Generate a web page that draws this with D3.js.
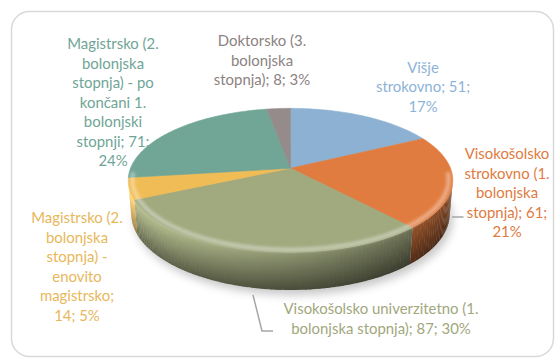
<!DOCTYPE html>
<html>
<head>
<meta charset="utf-8">
<script src="https://cdn.jsdelivr.net/npm/d3@7"></script>
<style>
  html, body { margin: 0; padding: 0; background: #ffffff; }
  svg { display: block; }
</style>
</head>
<body>
<svg id="chart" width="556" height="360"></svg>
<script>
// ---- data ----
const categories = [
  "Višje strokovno",
  "Visokošolsko strokovno (1. bolonjska stopnja)",
  "Visokošolsko univerzitetno (1. bolonjska stopnja)",
  "Magistrsko (2. bolonjska stopnja) - enovito magistrsko",
  "Magistrsko (2. bolonjska stopnja) - po končani 1. bolonjski stopnji",
  "Doktorsko (3. bolonjska stopnja)"
];
const values = [51, 61, 87, 14, 71, 8];

// ---- styling ----
const sliceColors = ["#8db1d3", "#e07c40", "#a1a97f", "#f0bc55", "#71a596", "#958b8b"];
const labelColors = ["#8db3d8", "#e07b3f", "#9fa77d", "#e8b75a", "#6fa596", "#8c8282"];
// words on each wrapped line of a data label
const labelWrap = [[1, 2, 1], [1, 2, 1, 2, 1], [3, 4], [2, 1, 2, 1, 1, 2], [2, 1, 3, 2, 1, 2, 1], [2, 1, 3]];
// label block centre x and centre y of its first line
const labelAnchor = [[423, 67.5], [507, 154], [381, 309], [77, 218], [113, 44], [262, 41]];
const lineStep = 19.5;
const leaders = [null, [[452, 217], [463.5, 217]], [[253, 295], [262, 331], [273, 331]], null, null, null];

const svg = d3.select("#chart");
const defs = svg.append("defs");

// chart area frame
svg.append("rect")
  .attr("x", 11.5).attr("y", 11.5).attr("width", 542).attr("height", 345)
  .attr("rx", 18).attr("ry", 18)
  .attr("fill", "#ffffff").attr("stroke", "#d9d9d9").attr("stroke-width", 1.5);

// ---- perspective projection of a tilted disc ----
const cam = { cx: 290.5, cy: 168.3, f: 864, D: 5.4, sinE: 0.437, cosE: 0.8995, h: 0.235 };
function project(a, r, z) {
  const X = r * Math.sin(a), Y = -r * Math.cos(a);
  const v = -Y * cam.sinE + z * cam.cosE;
  const d = cam.D - (Y * cam.cosE + z * cam.sinE);
  return [cam.cx + cam.f * X / d, cam.cy - cam.f * v / d];
}
const line = d3.line();
function arcPoints(a0, a1, r, z) {
  const n = Math.max(2, Math.ceil((a1 - a0) / (Math.PI / 180)));
  return d3.range(n + 1).map(i => project(a0 + (a1 - a0) * i / n, r, z));
}

const pie = d3.pie().sort(null).value(d => d);
const arcs = pie(values);
const total = d3.sum(values);

// drop shadow under the disc
defs.append("filter").attr("id", "soft").attr("x", "-20%").attr("y", "-20%").attr("width", "140%").attr("height", "140%")
  .append("feGaussianBlur").attr("stdDeviation", 4);
defs.append("filter").attr("id", "glow").attr("x", "-10%").attr("y", "-10%").attr("width", "120%").attr("height", "120%")
  .append("feGaussianBlur").attr("stdDeviation", 1.5);

const shadow = svg.append("g").attr("filter", "url(#soft)").attr("opacity", 0.32);
shadow.append("path")
  .attr("d", line(arcPoints(0, 2 * Math.PI, 1.0, -cam.h)) + "Z")
  .attr("transform", "translate(3,5)")
  .attr("fill", "#555");

// ---- outer walls (only the part facing the viewer) ----
const aMin = Math.acos(-1 / (cam.D * cam.cosE));
const aMax = 2 * Math.PI - aMin;
const walls = svg.append("g");
const step = Math.PI / 120;
let gid = 0;
arcs.forEach((s, i) => {
  const a0 = Math.max(s.startAngle, aMin), a1 = Math.min(s.endAngle, aMax);
  if (a1 <= a0) return;
  const base = d3.rgb(sliceColors[i]);
  const n = Math.max(1, Math.ceil((a1 - a0) / step));
  for (let k = 0; k < n; k++) {
    const t0 = a0 + (a1 - a0) * k / n;
    const t1 = Math.min(a1, a0 + (a1 - a0) * (k + 1) / n + 0.004);
    const mid = (t0 + t1) / 2;
    const L = 0.78 + 0.28 * Math.sin(mid - Math.PI);
    const shade = m => d3.rgb(base.r * L * m, base.g * L * m, base.b * L * m).formatHex();
    const id = "w" + (gid++);
    const g = defs.append("linearGradient").attr("id", id)
      .attr("x1", 0).attr("y1", 0).attr("x2", 0).attr("y2", 1);
    [[0, 1.15], [0.22, 1.02], [0.55, 0.84], [1, 0.58]].forEach(([o, m]) =>
      g.append("stop").attr("offset", o).attr("stop-color", shade(m)));
    const pts = [project(t0, 1, 0), project(t1, 1, 0), project(t1, 1, -cam.h), project(t0, 1, -cam.h)];
    walls.append("path").attr("d", line(pts) + "Z").attr("fill", `url(#${id})`);
  }
});

// ---- top faces ----
const tops = svg.append("g");
arcs.forEach((s, i) => {
  const pts = [project(0, 0, 0)].concat(arcPoints(s.startAngle, s.endAngle, 1, 0));
  tops.append("path")
    .attr("d", line(pts) + "Z")
    .attr("fill", sliceColors[i])
    .attr("stroke", sliceColors[i]).attr("stroke-width", 0.6).attr("stroke-linejoin", "round");
});

// rounded-edge highlight along the front rim
svg.append("path")
  .attr("d", line(arcPoints(aMin - 0.15, aMax + 0.15, 0.975, 0)))
  .attr("fill", "none").attr("stroke", "#ffffff").attr("stroke-width", 4.5)
  .attr("stroke-opacity", 0.36).attr("filter", "url(#glow)");

// ---- leader lines ----
leaders.forEach(p => {
  if (!p) return;
  svg.append("path").attr("d", line(p)).attr("fill", "none")
    .attr("stroke", "#a6a6a6").attr("stroke-width", 1.5);
});

// ---- data labels ----
const labels = svg.append("g")
  .attr("font-family", "Lato, 'Noto Sans', sans-serif")
  .attr("text-anchor", "middle");

// size text so a full label line has its natural width
const probe = labels.append("text").attr("font-size", 14).text("Visokošolsko univerzitetno (1.");
const fontSize = 14 * 195 / probe.node().getComputedTextLength();
probe.remove();
labels.attr("font-size", fontSize.toFixed(2));

arcs.forEach((s, i) => {
  const pct = Math.round(100 * values[i] / total);
  const words = `${categories[i]}; ${values[i]}; ${pct}%`.split(" ");
  let w = 0;
  const rows = labelWrap[i].map(c => { const r = words.slice(w, w + c).join(" "); w += c; return r; });
  const [lx, ly] = labelAnchor[i];
  const t = labels.append("text").attr("fill", labelColors[i]);
  rows.forEach((r, j) => {
    t.append("tspan").attr("x", lx).attr("y", ly + 5 + j * lineStep).text(r);
  });
});
</script>
</body>
</html>
